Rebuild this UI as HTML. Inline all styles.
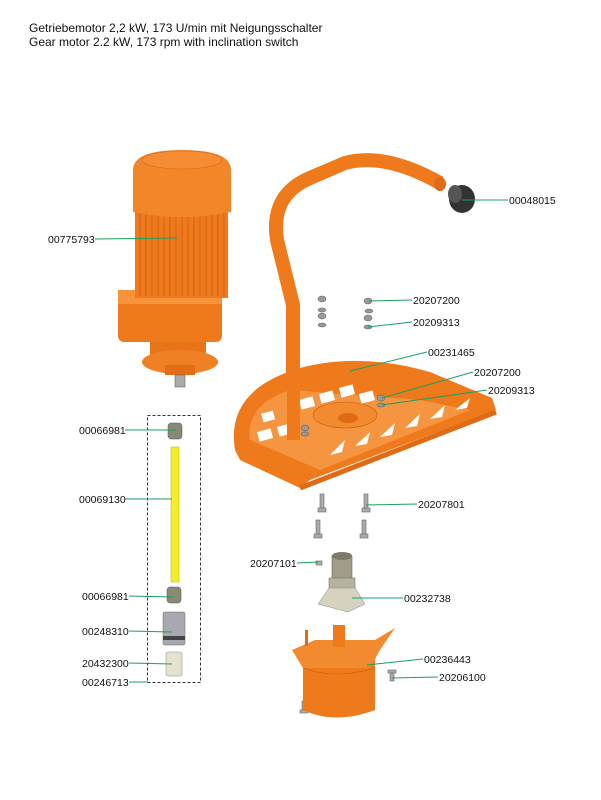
<!DOCTYPE html>
<html><head><meta charset="utf-8"><style>
html,body{margin:0;padding:0;background:#fff;}
svg{display:block;}
text{font-family:"Liberation Sans",Arial,sans-serif;}
</style></head><body>
<svg width="601" height="800" viewBox="0 0 601 800" xmlns="http://www.w3.org/2000/svg">
<text x="29" y="32" font-size="12" fill="#111">Getriebemotor 2,2 kW, 173 U/min mit Neigungsschalter</text>
<text x="29" y="46" font-size="12" fill="#111">Gear motor 2.2 kW, 173 rpm with inclination switch</text>

<!-- Motor -->
<rect x="118" y="290" width="104" height="52" rx="6" fill="#ee7a1c"/>
<rect x="118" y="290" width="104" height="14" fill="#f7943a"/>
<rect x="150" y="342" width="56" height="20" fill="#e8741a"/>
<ellipse cx="180" cy="362" rx="38" ry="12" fill="#f08024"/>
<rect x="165" y="365" width="30" height="10" fill="#e26d16"/>
<rect x="175" y="375" width="10" height="12" fill="#aaa" stroke="#666" stroke-width="0.6"/>
<rect x="135" y="210" width="93" height="88" fill="#ef7a1d"/>
<g stroke="#c85c10" stroke-width="0.7">
<line x1="140" y1="212" x2="140" y2="296"/><line x1="146" y1="212" x2="146" y2="296"/><line x1="152" y1="212" x2="152" y2="296"/><line x1="158" y1="212" x2="158" y2="296"/><line x1="164" y1="212" x2="164" y2="296"/><line x1="170" y1="212" x2="170" y2="296"/><line x1="176" y1="212" x2="176" y2="296"/><line x1="182" y1="212" x2="182" y2="296"/><line x1="188" y1="212" x2="188" y2="296"/><line x1="194" y1="212" x2="194" y2="296"/><line x1="200" y1="212" x2="200" y2="296"/><line x1="206" y1="212" x2="206" y2="296"/><line x1="212" y1="212" x2="212" y2="296"/><line x1="218" y1="212" x2="218" y2="296"/><line x1="224" y1="212" x2="224" y2="296"/>
</g>
<path d="M133 170 Q133 150 182 150 Q231 150 231 170 L231 212 Q182 222 133 212 Z" fill="#f4862a"/>
<ellipse cx="182" cy="160" rx="40" ry="9" fill="#f68d33" stroke="#d0661a" stroke-width="0.6"/>

<!-- Handle -->
<path d="M293 442 L293 305 L277 240 Q270 195 310 178 L345 163 Q385 152 440 183" fill="none" stroke="#ef7a1c" stroke-width="14"/>
<ellipse cx="440" cy="184" rx="6" ry="7" fill="#e06a15"/>
<!-- grommet -->
<ellipse cx="462" cy="199" rx="13" ry="14" fill="#333"/>
<ellipse cx="455" cy="194" rx="7" ry="9" fill="#555"/>

<!-- Frame -->
<path d="M235 450 Q225 390 300 368 Q360 352 430 372 L492 398 L496 410 L310 480 L300 488 L240 460 Z" fill="#ef7a1c"/>
<path d="M250 440 Q245 405 290 390 L420 400 L470 410 L320 470 Z" fill="#f59540"/>
<g fill="#fff">
<rect x="258" y="430" width="14" height="10" transform="rotate(-15 265 435)"/>
<rect x="278" y="425" width="14" height="10" transform="rotate(-15 285 430)"/>
<rect x="300" y="398" width="14" height="10" transform="rotate(-15 307 403)"/>
<rect x="320" y="392" width="14" height="10" transform="rotate(-15 327 397)"/>
<rect x="340" y="386" width="14" height="10" transform="rotate(-15 347 391)"/>
<rect x="360" y="392" width="14" height="10" transform="rotate(-15 367 397)"/>
<rect x="262" y="412" width="12" height="9" transform="rotate(-15 268 416)"/>
<path d="M330 455 L345 440 L342 452 Z"/><path d="M355 446 L370 432 L367 444 Z"/><path d="M380 437 L395 423 L392 435 Z"/><path d="M405 428 L420 414 L417 426 Z"/><path d="M430 419 L445 405 L442 417 Z"/><path d="M455 410 L470 398 L467 408 Z"/>
</g>
<ellipse cx="345" cy="415" rx="32" ry="13" fill="#f28a30" stroke="#c85c10" stroke-width="0.6"/>
<ellipse cx="348" cy="418" rx="10" ry="5" fill="#e06a15"/>
<path d="M300 488 L496 412" stroke="#e06a15" stroke-width="5"/>
<rect x="287" y="320" width="13" height="120" fill="#ef7a1c"/>

<!-- nuts washers -->
<g fill="#999" stroke="#555" stroke-width="0.5">
<ellipse cx="322" cy="299" rx="4" ry="3"/><ellipse cx="322" cy="310" rx="4" ry="2"/><ellipse cx="322" cy="316" rx="4" ry="3"/><ellipse cx="322" cy="325" rx="4" ry="2"/>
<ellipse cx="368" cy="301" rx="4" ry="3"/><ellipse cx="369" cy="311" rx="4" ry="2"/><ellipse cx="368" cy="318" rx="4" ry="3"/><ellipse cx="368" cy="327" rx="4" ry="2"/>
<ellipse cx="381" cy="398" rx="4" ry="3"/><ellipse cx="381" cy="405" rx="4" ry="2"/>
<ellipse cx="305" cy="428" rx="4" ry="3"/><ellipse cx="305" cy="434" rx="4" ry="2"/>
</g>

<!-- screws -->
<g fill="#aaa" stroke="#666" stroke-width="0.6">
<rect x="320" y="494" width="4" height="16"/><rect x="318" y="508" width="8" height="4"/>
<rect x="364" y="494" width="4" height="16"/><rect x="362" y="508" width="8" height="4"/>
<rect x="316" y="520" width="4" height="16"/><rect x="314" y="534" width="8" height="4"/>
<rect x="362" y="520" width="4" height="16"/><rect x="360" y="534" width="8" height="4"/>
<rect x="316" y="561" width="6" height="4"/>
<rect x="390" y="671" width="4" height="10"/><rect x="388" y="670" width="8" height="3"/>
<rect x="302" y="701" width="4" height="10"/><rect x="300" y="710" width="8" height="3"/>
</g>
<!-- bracket 00232738 -->
<rect x="332" y="556" width="20" height="26" fill="#a09c88" stroke="#666" stroke-width="0.6"/>
<ellipse cx="342" cy="556" rx="10" ry="4" fill="#7d7a6a"/>
<rect x="329" y="578" width="26" height="12" fill="#b5b29f" stroke="#666" stroke-width="0.5"/>
<path d="M318 604 L329 588 L355 588 L365 604 L348 612 Z" fill="#d5d2c0" stroke="#888" stroke-width="0.5"/>

<!-- cup 00236443 -->
<path d="M303 660 L303 710 Q335 725 375 710 L375 660 Z" fill="#ef7a1c"/>
<path d="M292 650 L315 640 L375 640 L395 628 L380 650 L370 668 L303 668 Z" fill="#f28a30"/>
<rect x="333" y="625" width="12" height="22" fill="#ef7a1c"/>
<rect x="305" y="630" width="3" height="16" fill="#e06a15"/>
<path d="M303 668 Q335 680 375 668" fill="none" stroke="#c85c10" stroke-width="0.6"/>

<!-- dashed box -->
<rect x="147.5" y="415.5" width="53" height="267" fill="none" stroke="#333" stroke-width="1" stroke-dasharray="3,2"/>
<!-- glands -->
<rect x="168" y="423" width="14" height="16" rx="3" fill="#8a8877" stroke="#555" stroke-width="0.5"/>
<rect x="167" y="587" width="14" height="16" rx="3" fill="#8a8877" stroke="#555" stroke-width="0.5"/>
<rect x="171" y="447" width="8" height="135" fill="#f2ee2a" stroke="#c9c200" stroke-width="0.6"/>
<rect x="163" y="612" width="22" height="33" rx="2" fill="#a8a8b0" stroke="#666" stroke-width="0.5"/>
<rect x="163" y="636" width="22" height="4" fill="#444"/>
<rect x="166" y="652" width="16" height="24" rx="2" fill="#e6e2cf" stroke="#888" stroke-width="0.5"/>

<!-- leader lines -->
<g stroke="#1aa060" stroke-width="1" fill="none">
<line x1="462" y1="200" x2="508" y2="200"/>
<line x1="95" y1="239" x2="177" y2="238"/>
<line x1="369" y1="301" x2="412" y2="300"/>
<line x1="368" y1="327" x2="412" y2="322"/>
<line x1="350" y1="371" x2="427" y2="352"/>
<line x1="382" y1="398" x2="473" y2="372"/>
<line x1="382" y1="405" x2="487" y2="390"/>
<line x1="125" y1="430" x2="176" y2="430"/>
<line x1="125" y1="499" x2="172" y2="499"/>
<line x1="366" y1="505" x2="417" y2="504"/>
<line x1="297" y1="563" x2="318" y2="562"/>
<line x1="129" y1="596" x2="173" y2="597"/>
<line x1="352" y1="598" x2="403" y2="598"/>
<line x1="129" y1="631" x2="172" y2="632"/>
<line x1="367" y1="665" x2="423" y2="659"/>
<line x1="129" y1="663" x2="172" y2="664"/>
<line x1="392" y1="678" x2="438" y2="677"/>
<line x1="129" y1="682" x2="148" y2="682"/>
</g>
<g font-size="10.5" fill="#111">
<text x="509" y="204">00048015</text>
<text x="48" y="243">00775793</text>
<text x="413" y="304">20207200</text>
<text x="413" y="326">20209313</text>
<text x="428" y="356">00231465</text>
<text x="474" y="376">20207200</text>
<text x="488" y="394">20209313</text>
<text x="79" y="434">00066981</text>
<text x="79" y="503">00069130</text>
<text x="418" y="508">20207801</text>
<text x="250" y="567">20207101</text>
<text x="82" y="600">00066981</text>
<text x="404" y="602">00232738</text>
<text x="82" y="635">00248310</text>
<text x="424" y="663">00236443</text>
<text x="82" y="667">20432300</text>
<text x="439" y="681">20206100</text>
<text x="82" y="686">00246713</text>
</g>
</svg>
</body></html>
